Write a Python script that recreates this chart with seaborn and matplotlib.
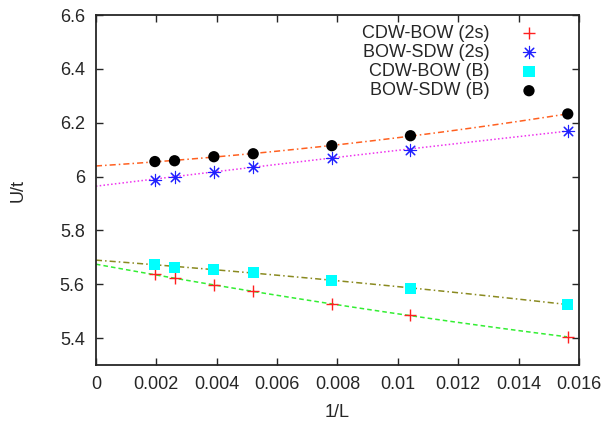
import numpy as np
import pandas as pd
import seaborn as sns
import matplotlib
matplotlib.use("Agg")
import matplotlib.pyplot as plt

# system sizes -> 1/L
L = [512, 384, 256, 192, 128, 96, 64]
inv_L = [1.0 / l for l in L]

# transition points
cdw_bow_2s = [5.637, 5.622, 5.596, 5.574, 5.526, 5.485, 5.404]
bow_sdw_2s = [5.989, 6.000, 6.019, 6.037, 6.070, 6.100, 6.170]
cdw_bow_b = [5.674, 5.663, 5.655, 5.644, 5.615, 5.585, 5.525]
bow_sdw_b = [6.056, 6.059, 6.074, 6.085, 6.115, 6.152, 6.233]

labels = ["CDW-BOW (2s)", "BOW-SDW (2s)", "CDW-BOW (B)", "BOW-SDW (B)"]
series = [cdw_bow_2s, bow_sdw_2s, cdw_bow_b, bow_sdw_b]

data = pd.DataFrame({"invL": inv_L * 4,
                     "U": sum(series, []),
                     "set": sum([[lab] * len(inv_L) for lab in labels], [])})

sns.set_style("ticks")
plt.rcParams["font.family"] = ["Liberation Sans", "DejaVu Sans"]
fs = 13

fig = plt.figure(figsize=(6.07, 4.21), dpi=100)
ax = fig.add_axes([0.158, 0.133, 0.796, 0.831])

# extrapolation fits (quadratic in 1/L)
fit_styles = {
    "CDW-BOW (2s)": dict(color="#33ee33", ls=(0, (3, 2)), lw=1.1),
    "BOW-SDW (2s)": dict(color="#ee33ee", ls=(0, (1, 1.5)), lw=1.1),
    "CDW-BOW (B)": dict(color="#8a8a20", ls=(0, (4, 2, 1, 2)), lw=1.1),
    "BOW-SDW (B)": dict(color="#ff6020", ls=(0, (4, 2, 1, 2)), lw=1.1),
}
xfit = np.linspace(0, 0.0156, 100)
for lab, vals in zip(labels, series):
    c = np.polyfit(inv_L, vals, 2)
    sns.lineplot(x=xfit, y=np.polyval(c, xfit), ax=ax, legend=False, **fit_styles[lab])

markers = {"CDW-BOW (2s)": "+", "BOW-SDW (2s)": (8, 2, 0),
           "CDW-BOW (B)": "s", "BOW-SDW (B)": "o"}
palette = {"CDW-BOW (2s)": "#ff2020", "BOW-SDW (2s)": "#2020ff",
           "CDW-BOW (B)": "#00ffff", "BOW-SDW (B)": "#000000"}
sizes = {"CDW-BOW (2s)": 70, "BOW-SDW (2s)": 78, "CDW-BOW (B)": 64, "BOW-SDW (B)": 66}
widths = {"CDW-BOW (2s)": 1.0, "BOW-SDW (2s)": 0.8, "CDW-BOW (B)": 0, "BOW-SDW (B)": 0}
for lab in labels:
    sub = data[data["set"] == lab]
    thin = widths[lab] > 0
    sns.scatterplot(data=sub, x="invL", y="U", marker=markers[lab], color=palette[lab],
                    s=sizes[lab], linewidth=widths[lab],
                    edgecolor=palette[lab] if thin else "none",
                    ax=ax, label=lab, zorder=3)

ax.set_xlim(0, 0.016)
ax.set_ylim(5.3, 6.6)
ax.set_xticks(np.arange(0, 0.0161, 0.002))
ax.set_xticklabels(["0", "0.002", "0.004", "0.006", "0.008", "0.01", "0.012", "0.014", "0.016"])
ax.set_yticks([5.4, 5.6, 5.8, 6.0, 6.2, 6.4, 6.6])
ax.set_yticklabels(["5.4", "5.6", "5.8", "6", "6.2", "6.4", "6.6"])
ax.tick_params(direction="in", top=True, right=True, length=5, width=1, labelsize=fs, pad=8)
for sp in ax.spines.values():
    sp.set_linewidth(1.3)
ax.set_xlabel("1/L", fontsize=fs, labelpad=8)
ax.set_ylabel("U/t", fontsize=fs, labelpad=24)

leg = ax.legend(loc="upper right", frameon=False, markerfirst=False, fontsize=fs,
                handlelength=1.0, handletextpad=1.7, labelspacing=0.12,
                borderpad=0, borderaxespad=0, bbox_to_anchor=(0.915, 0.972))
for t in leg.get_texts():
    t.set_ha("right")
leg._legend_box.align = "right"

fig.savefig("out.png", dpi=100)
